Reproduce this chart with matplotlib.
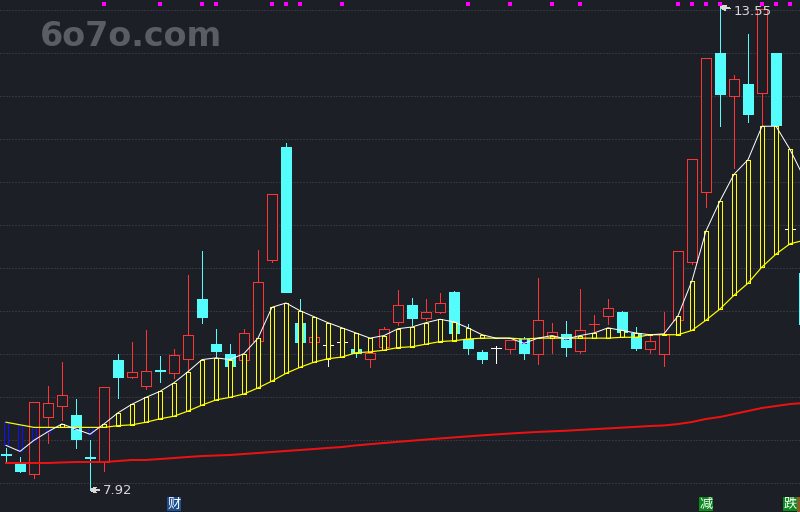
import matplotlib
matplotlib.use("Agg")
import matplotlib.pyplot as plt
from matplotlib.patches import Rectangle
from matplotlib.transforms import blended_transform_factory

# ---- daily bars ----
opens = [8.34, 8.25, 8.11, 8.77, 8.90, 8.79, 8.30, 8.25, 9.44, 9.24,
         9.13, 9.32, 9.28, 9.45, 10.15, 9.62, 9.51, 9.44, 9.66, 10.60,
         11.92, 9.87, 9.65, 9.61, 9.65, 9.56, 9.45, 9.59, 9.88, 10.08,
         9.92, 9.99, 10.23, 9.68, 9.53, 9.58, 9.56, 9.68, 9.51, 9.70,
         9.74, 9.54, 9.85, 9.95, 9.99, 9.75, 9.56, 9.51, 9.90, 10.58,
         11.39, 13.01, 12.51, 12.65, 12.55, 13.01, 10.96, 10.45]
closes = [8.33, 8.14, 8.95, 8.93, 9.03, 8.51, 8.29, 9.12, 9.24, 9.30,
          9.31, 9.31, 9.49, 9.73, 9.94, 9.54, 9.37, 9.75, 10.34, 11.37,
          10.23, 9.65, 9.70, 9.61, 9.65, 9.52, 9.52, 9.80, 10.08, 9.92,
          9.99, 10.10, 9.75, 9.58, 9.45, 9.58, 9.67, 9.52, 9.90, 9.76,
          9.59, 9.78, 9.86, 10.04, 9.76, 9.58, 9.66, 9.74, 10.71, 11.78,
          12.96, 12.54, 12.71, 12.30, 13.53, 12.18, 10.96, 9.86]
highs = [8.41, 8.30, 8.95, 9.13, 9.41, 8.98, 8.50, 9.12, 9.51, 9.65,
         9.78, 9.48, 9.56, 10.43, 10.71, 9.80, 9.62, 9.80, 10.72, 11.37,
         11.96, 10.15, 9.70, 9.61, 9.65, 9.56, 9.52, 9.82, 10.25, 10.16,
         10.15, 10.22, 10.24, 9.85, 9.55, 9.60, 9.67, 9.70, 10.39, 9.87,
         9.89, 10.26, 9.96, 10.15, 10.01, 9.82, 9.74, 9.99, 10.71, 11.78,
         12.96, 13.55, 12.76, 13.24, 13.53, 13.01, 10.96, 10.45]
lows = [8.25, 8.13, 8.06, 8.47, 8.74, 8.41, 7.92, 8.14, 8.99, 9.23,
        9.10, 9.18, 9.23, 9.30, 9.87, 9.46, 9.35, 9.41, 9.63, 10.58,
        10.23, 9.61, 9.65, 9.37, 9.65, 9.47, 9.35, 9.56, 9.84, 9.84,
        9.90, 9.98, 9.75, 9.51, 9.40, 9.40, 9.52, 9.45, 9.39, 9.52,
        9.48, 9.52, 9.75, 9.85, 9.75, 9.55, 9.52, 9.37, 9.90, 10.55,
        11.22, 12.16, 11.67, 12.21, 12.15, 12.19, 10.96, 9.86]

# ---- indicator lines ----
ma_fast = [8.44, 8.37, 8.50, 8.60, 8.69, 8.63, 8.57, 8.69, 8.82, 8.92,
           9.00, 9.07, 9.17, 9.30, 9.44, 9.46, 9.44, 9.51, 9.69, 10.05,
           10.10, 10.01, 9.94, 9.87, 9.81, 9.75, 9.69, 9.72, 9.80, 9.82,
           9.87, 9.91, 9.88, 9.81, 9.73, 9.69, 9.69, 9.63, 9.69, 9.72,
           9.68, 9.72, 9.75, 9.81, 9.78, 9.75, 9.73, 9.74, 9.95, 10.36,
           10.94, 11.29, 11.60, 11.77, 12.16, 12.16, 11.89, 11.56]
ma_slow = [8.71, 8.68, 8.65, 8.65, 8.65, 8.65, 8.65, 8.65, 8.67, 8.68,
           8.71, 8.75, 8.78, 8.84, 8.91, 8.97, 9.00, 9.04, 9.11, 9.19,
           9.28, 9.35, 9.41, 9.45, 9.47, 9.52, 9.53, 9.55, 9.58, 9.59,
           9.62, 9.65, 9.66, 9.68, 9.69, 9.69, 9.69, 9.68, 9.69, 9.69,
           9.69, 9.69, 9.69, 9.69, 9.70, 9.70, 9.73, 9.73, 9.73, 9.78,
           9.90, 10.03, 10.19, 10.33, 10.52, 10.67, 10.79, 10.83]
ma_long = [8.235, 8.235, 8.235, 8.235, 8.241, 8.246, 8.246, 8.246, 8.258, 8.270,
           8.270, 8.281, 8.293, 8.305, 8.316, 8.322, 8.328, 8.340, 8.351, 8.363,
           8.375, 8.386, 8.398, 8.410, 8.421, 8.440, 8.454, 8.468, 8.482, 8.495,
           8.508, 8.521, 8.533, 8.545, 8.557, 8.568, 8.578, 8.588, 8.597, 8.604,
           8.611, 8.620, 8.629, 8.638, 8.647, 8.656, 8.666, 8.672, 8.689, 8.713,
           8.748, 8.771, 8.806, 8.841, 8.876, 8.899, 8.922, 8.934]

# ---- markers ----
signal_days = [7, 11, 14, 15, 19, 20, 21, 24, 33, 36, 39, 41,
               48, 49, 50, 51, 54, 55, 56]
event_days = [12, 50, 56]
event_texts = ["财", "减", "跌"]
event_colors = ["#1c4f8f", "#0a8a1c", "#0a8a1c"]
tail_event_day = 57

BG = "#1c1f26"
RED = "#ff3535"
CYAN = "#55fcfc"
YELLOW = "#ffff00"
BLUE = "#1010ff"
PX = 0.72  # one pixel in points at 100 dpi

plt.rcParams["patch.antialiased"] = False

fig = plt.figure(figsize=(8, 5.12), dpi=100, facecolor=BG)
ax = fig.add_axes([0, 0, 1, 1])
ax.set_facecolor(BG)
ax.set_xlim(-6 / 14, 794 / 14)
ax.set_ylim(7.6636, 13.6314)
ax.set_axis_off()

xfrac = blended_transform_factory(ax.transData, ax.transAxes)

# dotted horizontal grid
for k in range(12):
    f = 1 - (10 + 43 * k) / 512
    ax.plot([0, 1], [f, f], transform=ax.transAxes, color="#4a4e58",
            lw=PX, ls=(0, (1, 2)), zorder=0)

# candlesticks
w = 0.74
for i, (o, c, h, l) in enumerate(zip(opens, closes, highs, lows)):
    lo, hi = min(o, c), max(o, c)
    if c > o:
        col = RED
        ax.add_patch(Rectangle((i - w / 2, lo), w, hi - lo, facecolor=BG,
                               edgecolor=col, lw=PX, zorder=2, snap=True))
    elif c < o:
        col = CYAN
        ax.add_patch(Rectangle((i - w / 2, lo), w, hi - lo, facecolor=col,
                               edgecolor=col, lw=PX, zorder=2, snap=True))
    else:
        col = "#ffffff"
        ax.plot([i - w / 2, i + w / 2], [o, o], color=col, lw=PX,
                zorder=2, antialiased=False)
    if h > hi:
        ax.plot([i, i], [hi, h], color=col, lw=PX, zorder=2, antialiased=False)
    if l < lo:
        ax.plot([i, i], [l, lo], color=col, lw=PX, zorder=2, antialiased=False)

# spread bars between the fast and slow lines
bw = 0.32
for i, (a, b) in enumerate(zip(ma_fast, ma_slow)):
    col = YELLOW if a >= b else BLUE
    ax.add_patch(Rectangle((i - bw / 2, min(a, b)), bw, abs(a - b),
                           facecolor=BG, edgecolor=col, lw=PX, zorder=3, snap=True))

xs = list(range(len(closes)))
ax.plot(xs, ma_long, color="#ee1111", lw=PX * 2, zorder=4)
ax.plot(xs, ma_slow, color=YELLOW, lw=PX * 1.2, zorder=4)
ax.plot(xs, ma_fast, color="#ffffff", lw=PX, zorder=5)

# signal squares along the top
ax.scatter(signal_days, [1 - 4.3 / 512] * len(signal_days), transform=xfrac,
           marker="s", s=5, color="#ff00ff", linewidths=0, zorder=6)

# extreme price labels
num_font = ["Liberation Sans Narrow", "DejaVu Sans"]
hi_idx = highs.index(max(highs))
lo_idx = lows.index(min(lows))
arrow = dict(arrowstyle="->,head_length=0.35,head_width=0.18", color="#d8d8d8",
             lw=PX, shrinkA=1, shrinkB=0)
ax.annotate(f"{highs[hi_idx]:.2f}", xy=(hi_idx, highs[hi_idx]),
            xytext=(14, -5), textcoords="offset pixels", ha="left", va="center",
            color="#d8d8d8", fontsize=9.5, family=num_font, arrowprops=arrow, zorder=7)
ax.annotate(f"{lows[lo_idx]:.2f}", xy=(lo_idx, lows[lo_idx]),
            xytext=(13, 0), textcoords="offset pixels", ha="left", va="center",
            color="#d8d8d8", fontsize=9.5, family=num_font, arrowprops=arrow, zorder=7)

# event tags along the bottom
for d, t, c in zip(event_days, event_texts, event_colors):
    ax.text(d, 1 - 504 / 512, t, transform=xfrac, ha="center", va="center",
            fontsize=9.5, color="#ffffff", family=["Noto Sans CJK SC", "DejaVu Sans"],
            bbox=dict(boxstyle="square,pad=0.05", facecolor=c, edgecolor="none"),
            zorder=7)
ax.add_patch(Rectangle((tail_event_day - 0.5, 0.0), 1.0, 0.03, transform=xfrac,
                       facecolor="#8b5a24", edgecolor="none", zorder=7))

# watermark
fig.text(40 / 800, 1 - 46 / 512, "6o7o.com", ha="left", va="baseline",
         fontsize=24, fontweight="bold", color="#5a5d64", family="DejaVu Sans")

fig.savefig("out.png", dpi=100, facecolor=BG)
